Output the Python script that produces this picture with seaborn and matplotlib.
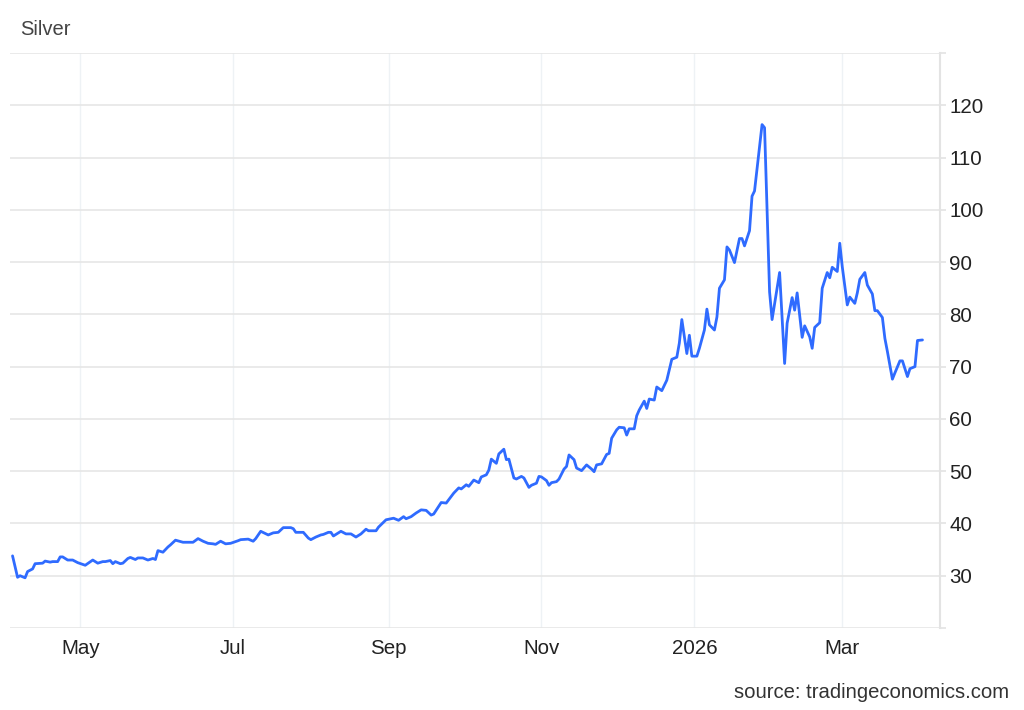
import pandas as pd
import matplotlib
matplotlib.use("Agg")
import matplotlib.pyplot as plt
import seaborn as sns

# Silver price
dates = [
    "2025-04-04", "2025-04-06", "2025-04-07", "2025-04-09", "2025-04-10", "2025-04-12",
    "2025-04-13", "2025-04-16", "2025-04-17", "2025-04-19", "2025-04-20", "2025-04-22",
    "2025-04-23", "2025-04-24", "2025-04-26", "2025-04-28", "2025-04-30", "2025-05-03",
    "2025-05-06", "2025-05-08", "2025-05-10", "2025-05-11", "2025-05-13", "2025-05-14",
    "2025-05-15", "2025-05-17", "2025-05-18", "2025-05-20", "2025-05-21", "2025-05-23",
    "2025-05-24", "2025-05-26", "2025-05-28", "2025-05-30", "2025-05-31", "2025-06-01",
    "2025-06-03", "2025-06-05", "2025-06-06", "2025-06-08", "2025-06-11", "2025-06-13",
    "2025-06-15", "2025-06-17", "2025-06-19", "2025-06-21", "2025-06-23", "2025-06-24",
    "2025-06-26", "2025-06-28", "2025-06-30", "2025-07-03", "2025-07-04", "2025-07-07",
    "2025-07-09", "2025-07-10", "2025-07-12", "2025-07-15", "2025-07-17", "2025-07-19",
    "2025-07-21", "2025-07-24", "2025-07-25", "2025-07-26", "2025-07-29", "2025-07-31",
    "2025-08-01", "2025-08-03", "2025-08-05", "2025-08-06", "2025-08-08", "2025-08-09",
    "2025-08-10", "2025-08-13", "2025-08-15", "2025-08-17", "2025-08-19", "2025-08-21",
    "2025-08-23", "2025-08-24", "2025-08-27", "2025-08-28", "2025-08-31", "2025-09-03",
    "2025-09-05", "2025-09-07", "2025-09-08", "2025-09-10", "2025-09-12", "2025-09-14",
    "2025-09-16", "2025-09-18", "2025-09-19", "2025-09-22", "2025-09-24", "2025-09-27",
    "2025-09-29", "2025-09-30", "2025-10-02", "2025-10-03", "2025-10-05", "2025-10-07",
    "2025-10-08", "2025-10-10", "2025-10-11", "2025-10-12", "2025-10-14", "2025-10-15",
    "2025-10-17", "2025-10-18", "2025-10-19", "2025-10-21", "2025-10-22", "2025-10-24",
    "2025-10-25", "2025-10-27", "2025-10-28", "2025-10-30", "2025-10-31", "2025-11-01",
    "2025-11-03", "2025-11-04", "2025-11-05", "2025-11-07", "2025-11-08", "2025-11-10",
    "2025-11-11", "2025-11-12", "2025-11-14", "2025-11-15", "2025-11-17", "2025-11-19",
    "2025-11-21", "2025-11-22", "2025-11-23", "2025-11-25", "2025-11-27", "2025-11-28",
    "2025-11-29", "2025-12-01", "2025-12-02", "2025-12-04", "2025-12-05", "2025-12-06",
    "2025-12-08", "2025-12-09", "2025-12-10", "2025-12-12", "2025-12-13", "2025-12-14",
    "2025-12-16", "2025-12-17", "2025-12-19", "2025-12-21", "2025-12-22", "2025-12-23",
    "2025-12-25", "2025-12-26", "2025-12-27", "2025-12-29", "2025-12-30", "2025-12-31",
    "2026-01-02", "2026-01-03", "2026-01-05", "2026-01-06", "2026-01-07", "2026-01-09",
    "2026-01-10", "2026-01-11", "2026-01-13", "2026-01-14", "2026-01-15", "2026-01-17",
    "2026-01-19", "2026-01-20", "2026-01-21", "2026-01-23", "2026-01-24", "2026-01-25",
    "2026-01-27", "2026-01-28", "2026-01-29", "2026-01-31", "2026-02-01", "2026-02-03",
    "2026-02-04", "2026-02-06", "2026-02-07", "2026-02-09", "2026-02-10", "2026-02-11",
    "2026-02-13", "2026-02-14", "2026-02-16", "2026-02-17", "2026-02-18", "2026-02-20",
    "2026-02-21", "2026-02-23", "2026-02-24", "2026-02-25", "2026-02-27", "2026-02-28",
    "2026-03-01", "2026-03-03", "2026-03-04", "2026-03-06", "2026-03-07", "2026-03-08",
    "2026-03-10", "2026-03-11", "2026-03-13", "2026-03-14", "2026-03-15", "2026-03-17",
    "2026-03-18", "2026-03-19", "2026-03-21", "2026-03-22", "2026-03-24", "2026-03-25",
    "2026-03-27", "2026-03-28", "2026-03-30", "2026-03-31", "2026-04-02",
]
prices = [
    33.8, 29.7, 30.0, 29.6, 30.8, 31.3,
    32.3, 32.4, 32.8, 32.6, 32.7, 32.7,
    33.6, 33.6, 33.0, 33.0, 32.5, 32.0,
    33.0, 32.4, 32.7, 32.7, 32.9, 32.3,
    32.7, 32.3, 32.4, 33.3, 33.5, 33.1,
    33.4, 33.4, 33.0, 33.3, 33.1, 34.8,
    34.5, 35.5, 35.9, 36.8, 36.4, 36.4,
    36.4, 37.1, 36.6, 36.2, 36.1, 36.0,
    36.6, 36.1, 36.2, 36.7, 36.9, 37.0,
    36.6, 37.1, 38.5, 37.8, 38.2, 38.3,
    39.2, 39.2, 39.0, 38.3, 38.3, 37.2,
    36.9, 37.4, 37.8, 37.9, 38.3, 38.3,
    37.6, 38.5, 38.0, 38.0, 37.4, 38.0,
    38.9, 38.6, 38.6, 39.3, 40.7, 41.0,
    40.6, 41.3, 40.9, 41.3, 42.0, 42.6,
    42.5, 41.6, 41.8, 44.0, 43.9, 45.8,
    46.8, 46.6, 47.4, 47.1, 48.3, 47.8,
    48.9, 49.3, 50.2, 52.3, 51.5, 53.3,
    54.2, 52.2, 52.3, 48.7, 48.5, 49.0,
    48.7, 46.9, 47.3, 47.7, 49.0, 48.9,
    48.2, 47.3, 47.8, 48.0, 48.5, 50.4,
    50.9, 53.1, 52.2, 50.6, 50.1, 51.2,
    50.4, 49.9, 51.2, 51.4, 53.2, 53.4,
    56.3, 57.9, 58.4, 58.3, 56.9, 58.1,
    58.1, 60.6, 61.7, 63.4, 62.0, 63.8,
    63.6, 66.1, 65.4, 67.4, 69.4, 71.4,
    71.8, 74.5, 79.0, 72.5, 76.0, 72.0,
    72.0, 73.5, 77.0, 81.0, 78.0, 77.0,
    79.5, 85.0, 86.6, 92.9, 92.3, 89.9,
    94.5, 94.5, 93.1, 96.0, 102.6, 103.6,
    112.0, 116.3, 115.7, 84.3, 79.0, 85.0,
    88.0, 70.6, 78.3, 83.2, 80.8, 84.1,
    75.6, 77.8, 75.7, 73.5, 77.5, 78.4,
    85.0, 88.0, 87.0, 89.0, 88.2, 93.6,
    89.1, 81.8, 83.3, 82.1, 84.1, 86.7,
    88.0, 85.6, 83.9, 80.7, 80.7, 79.4,
    75.4, 72.9, 67.6, 68.8, 71.1, 71.1,
    68.1, 69.6, 70.0, 75.0, 75.1,
]

month_ticks = ["2025-05-01", "2025-07-01", "2025-09-01", "2025-11-01", "2026-01-01", "2026-03-01"]
month_labels = ["May", "Jul", "Sep", "Nov", "2026", "Mar"]
y_ticks = [20, 30, 40, 50, 60, 70, 80, 90, 100, 110, 120, 130]

df = pd.DataFrame({"date": pd.to_datetime(dates), "price": prices})

sns.set_style("white")
plt.rcParams['font.family'] = ['Liberation Sans', 'DejaVu Sans']

fig = plt.figure(figsize=(10.24, 7.10), dpi=100)
ax = fig.add_axes([0.0098, 0.1155, 0.9082, 0.8099])

sns.lineplot(data=df, x="date", y="price", ax=ax, color="#2f6bff", linewidth=2.0)

ax.set_xlim(pd.Timestamp("2025-04-03"), pd.Timestamp("2026-04-09"))
ax.set_ylim(20, 130)

ax.set_xticks(pd.to_datetime(month_ticks))
ax.set_xticklabels(month_labels, fontsize=14.8, color="#222222")
ax.set_yticks(y_ticks)
ax.set_yticklabels([str(t) if 20 < t < 130 else "" for t in y_ticks], fontsize=14.8, color="#222222")

ax.yaxis.tick_right()
ax.tick_params(axis="y", length=4, width=1.2, color="#e3e3e3", pad=2.5)
ax.tick_params(axis="x", length=0, pad=8)

ax.grid(axis="y", color="#e6e6e6", linewidth=1.2)
ax.grid(axis="x", color="#eef2f5", linewidth=1.0)
ax.set_axisbelow(True)

for side in ["top", "left", "bottom"]:
    ax.spines[side].set_visible(False)
ax.spines["right"].set_color("#e3e3e3")
ax.spines["right"].set_linewidth(1.5)

ax.set_xlabel("")
ax.set_ylabel("")

fig.text(0.0195, 0.959, "Silver", fontsize=14.5, color="#444444", ha="left", va="center")
fig.text(0.985, 0.025, "source: tradingeconomics.com", fontsize=14.6, color="#333333",
         ha="right", va="center")

fig.savefig("out.png", dpi=100)
